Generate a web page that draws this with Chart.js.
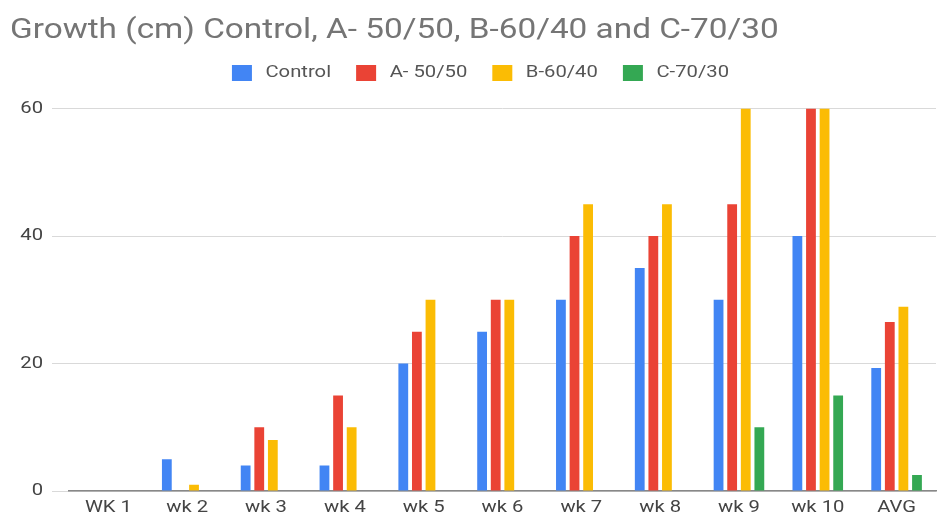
<!DOCTYPE html>
<html>
<head>
<meta charset="utf-8">
<script src="https://cdn.jsdelivr.net/npm/chart.js@4"></script>
<style>
  html, body { margin: 0; padding: 0; background: #fff; }
  #c { display: block; }
</style>
</head>
<body>
<canvas id="c" width="939" height="516"></canvas>
<script>
const categories = ["WK 1", "wk 2", "wk 3", "wk 4", "wk 5", "wk 6", "wk 7", "wk 8", "wk 9", "wk 10", "AVG"];
const controlValues = [0, 5, 4, 4, 20, 25, 30, 35, 30, 40, 19.3];
const aValues = [0, 0, 10, 15, 25, 30, 40, 40, 45, 60, 26.5];
const bValues = [0, 1, 8, 10, 30, 30, 45, 45, 60, 60, 28.9];
const cValues = [0, 0, 0, 0, 0, 0, 0, 0, 10, 15, 2.5];
const seriesNames = ["Control", "A- 50/50", "B-60/40", "C-70/30"];
const seriesColors = ["#4285F4", "#EA4335", "#FBBC04", "#34A853"];
const yTicks = [0, 20, 40, 60];
const titleText = "Growth (cm) Control, A- 50/50, B-60/40 and C-70/30";

const FONT = "Roboto, 'Liberation Sans', Arial, sans-serif";
const PAD_LEFT = 10;
const Y_AXIS_WIDTH = 59;
const SX = 1.19; // horizontal text stretch seen in the reference

const canvas = document.getElementById('c');
const ctx = canvas.getContext('2d');
const origFill = ctx.fillText.bind(ctx);
ctx.fillText = function (text, x, y, maxWidth) {
  this.save();
  this.translate(x, y);
  this.scale(SX, 1);
  if (maxWidth === undefined) origFill(text, 0, 0);
  else origFill(text, 0, 0, maxWidth / SX);
  this.restore();
};
const origMeasure = ctx.measureText.bind(ctx);
ctx.measureText = function (t) {
  const m = origMeasure(t);
  return {
    width: m.width * SX,
    actualBoundingBoxAscent: m.actualBoundingBoxAscent,
    actualBoundingBoxDescent: m.actualBoundingBoxDescent,
    actualBoundingBoxLeft: m.actualBoundingBoxLeft * SX,
    actualBoundingBoxRight: m.actualBoundingBoxRight * SX
  };
};

const legendShift = {
  id: 'legendShift',
  afterLayout(chart) {
    const lg = chart.legend;
    if (lg) { lg.left += 15; lg.right += 15; }
  }
};

const seriesData = [controlValues, aValues, bValues, cValues];
new Chart(ctx, {
  type: 'bar',
  data: {
    labels: categories,
    datasets: seriesData.map((d, i) => ({
      label: seriesNames[i],
      data: d,
      backgroundColor: seriesColors[i],
      borderWidth: 0,
      categoryPercentage: 0.69,
      barPercentage: 0.72
    }))
  },
  options: {
    responsive: false,
    animation: false,
    layout: { padding: { left: PAD_LEFT, right: 3, top: 0, bottom: 0 } },
    plugins: {
      title: {
        display: true,
        text: titleText,
        align: 'start',
        color: '#757575',
        font: { family: FONT, size: 28, weight: 'normal' },
        padding: { top: 14, bottom: 7 }
      },
      legend: {
        display: true,
        position: 'top',
        align: 'center',
        labels: {
          color: '#555',
          font: { family: FONT, size: 17 },
          boxWidth: 20,
          boxHeight: 16,
          padding: 10,
          generateLabels: (chart) => {
            const items = Chart.defaults.plugins.legend.labels.generateLabels(chart);
            items.forEach(it => { it.text = ' ' + it.text + '   '; it.lineWidth = 0; });
            return items;
          }
        }
      },
      tooltip: { enabled: false }
    },
    scales: {
      x: {
        grid: { display: false, drawTicks: false },
        border: { display: true, color: '#888', width: 1.5 },
        ticks: { color: '#444', font: { family: FONT, size: 17 }, padding: 7, maxRotation: 0, autoSkip: false },
        afterFit: (s) => { s.height = 25; }
      },
      spacer: {
        type: 'category',
        position: 'top',
        display: true,
        grid: { display: false, drawTicks: false },
        border: { display: false },
        ticks: { display: false },
        afterFit: (s) => { s.height = 17; }
      },
      y: {
        min: 0,
        max: 60,
        afterBuildTicks: (s) => { s.ticks = yTicks.map(v => ({ value: v })); },
        afterFit: (s) => { s.width = Y_AXIS_WIDTH; },
        grid: { color: '#d9d9d9', tickLength: 17, drawTicks: true },
        border: { display: false },
        ticks: { color: '#444', font: { family: FONT, size: 17 }, padding: 9 }
      }
    }
  },
  plugins: [legendShift]
});
</script>
</body>
</html>
